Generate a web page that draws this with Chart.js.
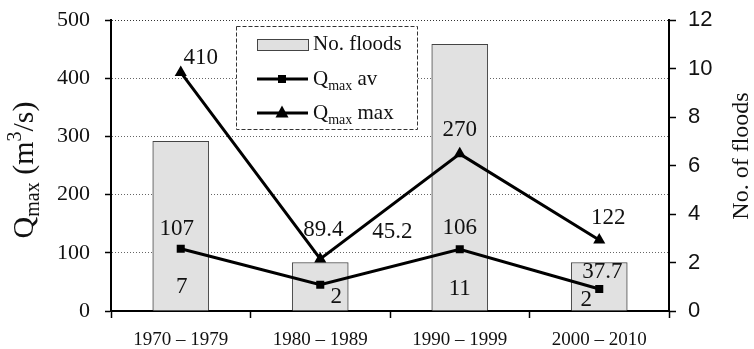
<!DOCTYPE html>
<html>
<head>
<meta charset="utf-8">
<script src="https://cdn.jsdelivr.net/npm/chart.js@4/dist/chart.umd.min.js"></script>
<style>
 html,body{margin:0;padding:0;background:#fff;}
 #wrap{width:754px;height:349px;}
</style>
</head>
<body>
<div id="wrap"><canvas id="c" width="754" height="349"></canvas></div>
<script>
// data
const periods = ['1970 – 1979','1980 – 1989','1990 – 1999','2000 – 2010'];
const floods = [7, 2, 11, 2];
const qAv = [107, 45.2, 106, 37.7];
const qMax = [410, 89.4, 270, 122];
const qTicks = [0, 100, 200, 300, 400, 500];
const floodTicks = [0, 2, 4, 6, 8, 10, 12];

// where the value labels sit relative to their marks (px)
const maxLabelOff = [[20,-14],[3,-29],[0,-24],[9,-22]];
const avLabelOff = [[-4,-20],[72,-53],[0,-21],[3,-17]];
const barLabelOff = [[1,-24],[16,-14],[0,-22],[-13,-11]];

const SERIF = '"Liberation Serif", "DejaVu Serif", serif';
const SANS = '"Liberation Sans", Arial, sans-serif';

// draw a run of text pieces (for sub/superscripts), returns width
function rich(ctx, parts, x, y, measureOnly){
  let cx = x;
  parts.forEach(p => {
    ctx.font = p.size + 'px ' + SERIF;
    if(!measureOnly) ctx.fillText(p.t, cx, y + (p.dy || 0));
    cx += ctx.measureText(p.t).width;
  });
  return cx - x;
}

const extras = {
  id: 'extras',
  afterDatasetsDraw(chart){
    const ctx = chart.ctx;
    ctx.save();
    ctx.fillStyle = '#111';
    ctx.font = '23px ' + SERIF;
    ctx.textAlign = 'center';
    ctx.textBaseline = 'middle';
    const mMax = chart.getDatasetMeta(2).data;
    const mAv = chart.getDatasetMeta(1).data;
    const mBar = chart.getDatasetMeta(0).data;
    mMax.forEach((p,i)=>ctx.fillText(String(qMax[i]), p.x + maxLabelOff[i][0], p.y + maxLabelOff[i][1]));
    mAv.forEach((p,i)=>ctx.fillText(String(qAv[i]), p.x + avLabelOff[i][0], p.y + avLabelOff[i][1]));
    const base = chart.scales.y1.getPixelForValue(0);
    mBar.forEach((b,i)=>ctx.fillText(String(floods[i]), b.x + barLabelOff[i][0], base + barLabelOff[i][1]));
    ctx.restore();
  },
  afterDraw(chart){
    const ctx = chart.ctx;
    ctx.save();
    ctx.fillStyle = '#111';
    ctx.textAlign = 'left';
    ctx.textBaseline = 'alphabetic';

    // left axis title, Q_max (m^3/s)
    const yt = [
      {t:'Q', size:30}, {t:'max', size:20, dy:6}, {t:' (m', size:30},
      {t:'3', size:20, dy:-12}, {t:'/s)', size:30}
    ];
    ctx.save();
    ctx.translate(33, 170);
    ctx.rotate(-Math.PI/2);
    const w1 = rich(ctx, yt, 0, 0, true);
    rich(ctx, yt, -w1/2, 0);
    ctx.restore();

    // right axis title
    ctx.save();
    ctx.translate(748, 156);
    ctx.rotate(-Math.PI/2);
    ctx.font = '24px ' + SERIF;
    ctx.textAlign = 'center';
    ctx.fillText('No. of floods', 0, 0);
    ctx.restore();

    // legend box
    ctx.fillStyle = '#fff';
    ctx.fillRect(236.5, 26.5, 181, 103);
    ctx.setLineDash([4,2]);
    ctx.strokeStyle = '#333';
    ctx.lineWidth = 1;
    ctx.strokeRect(236.5, 26.5, 181, 103);
    ctx.setLineDash([]);

    ctx.fillStyle = '#e0e0e0';
    ctx.fillRect(257.5, 39.5, 51, 11);
    ctx.strokeStyle = '#444';
    ctx.strokeRect(257.5, 39.5, 51, 11);

    ctx.strokeStyle = '#000';
    ctx.fillStyle = '#000';
    ctx.lineWidth = 3;
    ctx.beginPath(); ctx.moveTo(257, 79); ctx.lineTo(308, 79); ctx.stroke();
    ctx.fillRect(278, 75, 8, 8);
    ctx.beginPath(); ctx.moveTo(257, 113); ctx.lineTo(308, 113); ctx.stroke();
    ctx.beginPath(); ctx.moveTo(282, 105.5); ctx.lineTo(288.5, 117.5); ctx.lineTo(275.5, 117.5); ctx.closePath(); ctx.fill();

    ctx.fillStyle = '#111';
    rich(ctx, [{t:'No. floods', size:21}], 313, 50);
    rich(ctx, [{t:'Q', size:21}, {t:'max', size:14, dy:5}, {t:' av', size:21}], 313, 85);
    rich(ctx, [{t:'Q', size:21}, {t:'max', size:14, dy:5}, {t:' max', size:21}], 313, 119);
    ctx.restore();
  }
};

new Chart(document.getElementById('c'), {
  type: 'bar',
  data: {
    labels: periods,
    datasets: [
      {
        label: 'No. floods',
        data: floods,
        yAxisID: 'y1',
        backgroundColor: '#e1e1e1',
        borderColor: '#444',
        borderWidth: 1,
        barThickness: 56,
        order: 2
      },
      {
        type: 'line',
        label: 'Qmax av',
        data: qAv,
        yAxisID: 'y',
        borderColor: '#000',
        borderWidth: 3,
        pointStyle: 'rect',
        pointRadius: 5.7,
        pointBackgroundColor: '#000',
        pointBorderWidth: 0,
        order: 1
      },
      {
        type: 'line',
        label: 'Qmax max',
        data: qMax,
        yAxisID: 'y',
        borderColor: '#000',
        borderWidth: 3,
        pointStyle: 'triangle',
        pointRadius: 7,
        pointBackgroundColor: '#000',
        pointBorderWidth: 0,
        order: 1
      }
    ]
  },
  options: {
    responsive: false,
    animation: false,
    devicePixelRatio: 1,
    layout: {padding: {top: 20, left: 0, right: 0, bottom: 0}},
    plugins: {legend: {display: false}, tooltip: {enabled: false}},
    scales: {
      x: {
        offset: true,
        grid: {drawOnChartArea: false, offset: true, tickLength: 7, tickColor: '#000', tickWidth: 1.5},
        border: {color: '#000', width: 2},
        ticks: {color: '#111', font: {family: SERIF, size: 19}, padding: 11, maxRotation: 0, autoSkip: false},
        afterFit(s){ s.height = 38; s.paddingLeft = 0; s.paddingRight = 0; }
      },
      y: {
        position: 'left',
        min: 0, max: 500,
        afterBuildTicks(s){ s.ticks = qTicks.map(v => ({value: v})); },
        grid: {
          color: c => (c.tick && c.tick.value === 500) ? '#333' : '#666',
          lineWidth: 1, tickLength: 6, tickColor: '#000', tickWidth: 1.5, tickBorderDash: []
        },
        border: {color: '#000', width: 2, dash: [1, 2]},
        ticks: {color: '#111', font: {family: SERIF, size: 22, lineHeight: 0.7}, padding: 15},
        afterFit(s){ s.width = 111; s.paddingTop = 0; s.paddingBottom = 0; }
      },
      y1: {
        position: 'right',
        min: 0, max: 12,
        afterBuildTicks(s){ s.ticks = floodTicks.map(v => ({value: v})); },
        grid: {drawOnChartArea: false, tickLength: 7, tickColor: '#000', tickWidth: 1.5},
        border: {color: '#000', width: 2},
        ticks: {color: '#111', font: {family: SANS, size: 22, lineHeight: 0.7}, padding: 12},
        afterFit(s){ s.width = 85; s.paddingTop = 0; s.paddingBottom = 0; }
      }
    }
  },
  plugins: [extras]
});
</script>
</body>
</html>
